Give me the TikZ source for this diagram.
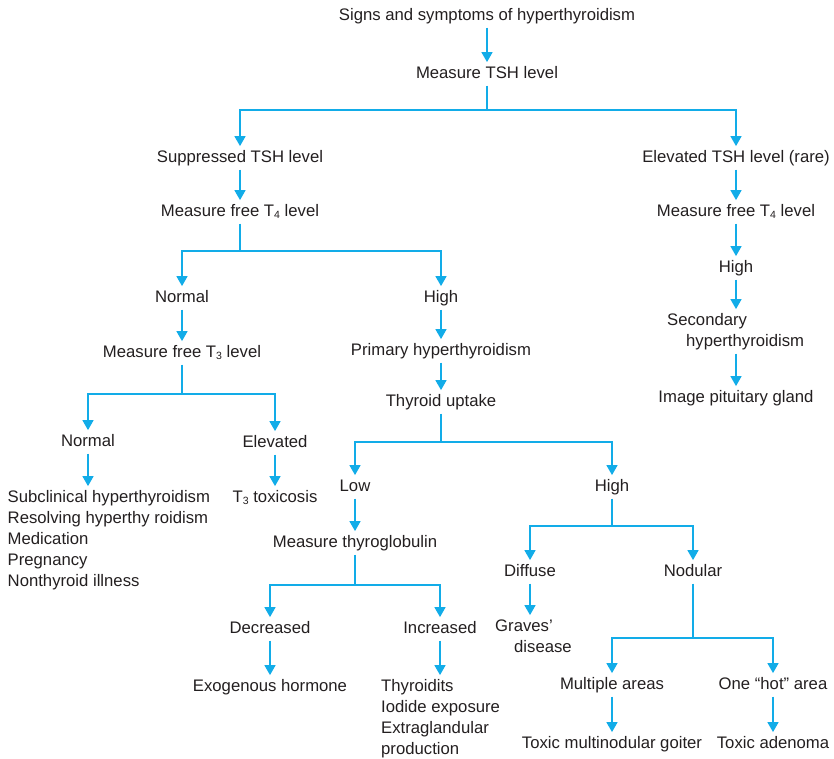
\documentclass[tikz,border=0pt]{standalone}
\usepackage{fontspec}
\setmainfont{Liberation Sans}
\usetikzlibrary{arrows.meta}
\definecolor{lncol}{HTML}{12ACE8}
\definecolor{txcol}{HTML}{231F20}
\newcommand\lowsub[1]{\raisebox{-2.5pt}{\fontsize{10.5}{10.5}\selectfont #1}}
\tikzset{
  lbl/.style={font=\fontsize{16.7}{21}\selectfont, text=txcol, inner xsep=0pt, inner ysep=1pt, anchor=base, execute at begin node=\strut},
  lblw/.style={lbl, anchor=base west},
  arr/.style={draw=lncol, line width=1.5pt, -{Triangle[width=11pt,length=10pt]}},
  lnk/.style={draw=lncol, line width=1.5pt}
}
\begin{document}
\begin{tikzpicture}[x=1pt,y=-1pt]
\useasboundingbox (0,0) rectangle (834,758);
% nodes
\node[lbl] (n1) at (487,20) {Signs and symptoms of hyperthyroidism};
\node[lbl] (n2) at (487,78) {Measure TSH level};
\coordinate (j1) at (487,110);
\node[lbl] (n3) at (240,162) {Suppressed TSH level};
\node[lbl] (n4) at (736,162) {Elevated TSH level (rare)};
\node[lbl] (n5) at (240,216) {Measure free T\lowsub{4} level};
\node[lbl] (n6) at (736,216) {Measure free T\lowsub{4} level};
\coordinate (j2) at (240,251);
\node[lbl] (n7) at (182,302) {Normal};
\node[lbl] (n8) at (441,302) {High};
\node[lbl] (n9) at (736,272) {High};
\node[lblw] (n10) at (667,325) {\begin{tabular}[t]{@{}l@{}}Secondary\\\hspace{19pt}hyperthyroidism\end{tabular}};
\node[lbl] (n11) at (736,402) {Image pituitary gland};
\node[lbl] (n12) at (182,357) {Measure free T\lowsub{3} level};
\coordinate (j3) at (182,394);
\node[lbl] (n13) at (88,446) {Normal};
\node[lbl] (n14) at (275,447) {Elevated};
\node[lblw] (n15) at (7.5,502) {\begin{tabular}[t]{@{}l@{}}Subclinical hyperthyroidism\\Resolving hyperthy roidism\\Medication\\Pregnancy\\Nonthyroid illness\end{tabular}};
\node[lbl] (n16) at (275,502) {T\lowsub{3} toxicosis};
\node[lbl] (n17) at (441,355) {Primary hyperthyroidism};
\node[lbl] (n18) at (441,406) {Thyroid uptake};
\coordinate (j4) at (441,442);
\node[lbl] (n19) at (355,491) {Low};
\node[lbl] (n20) at (612,491) {High};
\node[lbl] (n21) at (355,547) {Measure thyroglobulin};
\coordinate (j5) at (355,585);
\node[lbl] (n22) at (270,633) {Decreased};
\node[lbl] (n23) at (440,633) {Increased};
\node[lbl] (n24) at (270,691) {Exogenous hormone};
\node[lblw] (n25) at (381,691) {\begin{tabular}[t]{@{}l@{}}Thyroidits\\Iodide exposure\\Extraglandular\\production\end{tabular}};
\coordinate (j6) at (612,526);
\node[lbl] (n26) at (530,576) {Diffuse};
\node[lbl] (n27) at (693,576) {Nodular};
\node[lblw] (n28) at (495,631) {\begin{tabular}[t]{@{}l@{}}Graves’\\\hspace{19pt}disease\end{tabular}};
\coordinate (j7) at (693,638);
\node[lbl] (n29) at (612,689) {Multiple areas};
\node[lbl] (n30) at (773,689) {One “hot” area};
\node[lbl] (n31) at (612,748) {Toxic multinodular goiter};
\node[lbl] (n32) at (773,748) {Toxic adenoma};
% connectors
\draw[arr] (n1.south) -- (n2.north);
\draw[lnk] (n2.south) -- (j1);
\draw[arr] (j1) -| (n3.north);
\draw[arr] (j1) -| (n4.north);
\draw[arr] (n3.south) -- (n5.north);
\draw[arr] (n4.south) -- (n6.north);
\draw[lnk] (n5.south) -- (j2);
\draw[arr] (j2) -| (n7.north);
\draw[arr] (j2) -| (n8.north);
\draw[arr] (n6.south) -- (n9.north);
\draw[arr] (n9.south) -- (n9.south |- n10.north);
\draw[arr] (n11.north |- n10.south) -- (n11.north);
\draw[arr] (n7.south) -- (n12.north);
\draw[lnk] (n12.south) -- (j3);
\draw[arr] (j3) -| (n13.north);
\draw[arr] (j3) -| (n14.north);
\draw[arr] (n13.south) -- (n13.south |- n15.north);
\draw[arr] (n14.south) -- (n16.north);
\draw[arr] (n8.south) -- (n17.north);
\draw[arr] (n17.south) -- (n18.north);
\draw[lnk] (n18.south) -- (j4);
\draw[arr] (j4) -| (n19.north);
\draw[arr] (j4) -| (n20.north);
\draw[arr] (n19.south) -- (n21.north);
\draw[lnk] (n21.south) -- (j5);
\draw[arr] (j5) -| (n22.north);
\draw[arr] (j5) -| (n23.north);
\draw[arr] (n22.south) -- (n24.north);
\draw[arr] (n23.south) -- (n23.south |- n25.north);
\draw[lnk] (n20.south) -- (j6);
\draw[arr] (j6) -| (n26.north);
\draw[arr] (j6) -| (n27.north);
\draw[arr] (n26.south) -- (n26.south |- n28.north);
\draw[lnk] (n27.south) -- (j7);
\draw[arr] (j7) -| (n29.north);
\draw[arr] (j7) -| (n30.north);
\draw[arr] (n29.south) -- (n31.north);
\draw[arr] (n30.south) -- (n32.north);
\end{tikzpicture}
\end{document}
